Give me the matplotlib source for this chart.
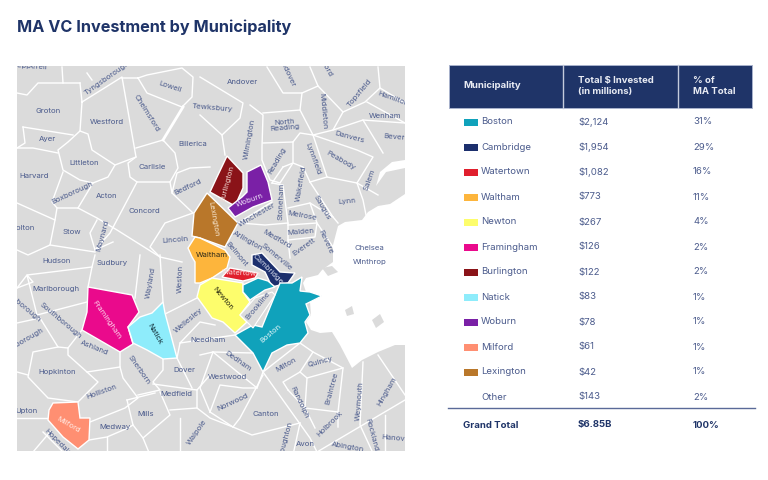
import matplotlib
matplotlib.use('Agg')
import matplotlib.pyplot as plt
from matplotlib.patches import Polygon, Rectangle

# --- CONFIGURATION ---
OUTPUT_FIGURE = 'out.png'
plt.rcParams['font.family'] = ['Inter', 'DejaVu Sans']

NAVY = '#1f3468'
TEXT_BLUE = '#4b5b8c'
LAND = '#dbdbdb'

# --- TABLE DATA ---
municipalities = ['Boston', 'Cambridge', 'Watertown', 'Waltham', 'Newton', 'Framingham',
                  'Burlington', 'Natick', 'Woburn', 'Milford', 'Lexington', 'Other']
invested = ['$2,124', '$1,954', '$1,082', '$773', '$267', '$126',
            '$122', '$83', '$78', '$61', '$42', '$143']
percent = ['31%', '29%', '16%', '11%', '4%', '2%', '2%', '1%', '1%', '1%', '1%', '2%']
colors = ['#10a2bb', '#1c2f6d', '#e01f2d', '#fdb53c', '#fdfd6c', '#ea0a8c',
          '#8a1318', '#8eecfb', '#7a20a6', '#ff8f72', '#b9772a', None]

highlighted = {
    'Burlington': [(227, 156), (243, 173), (243, 188), (235, 206), (210, 192), (217, 177)],
    'Woburn': [(261, 165), (268, 182), (272, 200), (253, 207), (235, 217), (228, 208),
               (242, 197), (247, 192), (247, 172)],
    'Lexington': [(207, 193), (238, 223), (225, 247), (200, 238), (192, 236), (194, 213)],
    'Waltham': [(188, 248), (195, 237), (200, 238), (225, 250), (230, 257), (227, 268),
                (212, 278), (200, 283), (195, 283), (195, 262), (192, 257)],
    'Watertown': [(222, 277), (230, 268), (258, 273), (255, 278), (243, 281)],
    'Cambridge': [(252, 255), (262, 253), (280, 272), (295, 273), (288, 283), (272, 287),
                  (265, 272), (252, 265)],
    'Newton': [(197, 297), (200, 285), (212, 278), (243, 283), (243, 292), (250, 302),
               (240, 315), (247, 322), (235, 333), (223, 322), (212, 318), (205, 308)],
    'Boston': [(302, 277), (300, 291), (310, 292), (322, 296), (314, 300), (306, 304), (310, 315),
               (305, 322), (308, 333), (300, 343), (287, 345), (272, 353), (263, 372), (253, 353),
               (235, 335), (253, 325), (262, 327), (275, 295), (280, 283), (292, 283)],
    'Allston': [(243, 285), (258, 278), (268, 281), (275, 287), (265, 290), (250, 300), (243, 292)],
    'Framingham': [(88, 287), (132, 295), (139, 312), (128, 327), (133, 344), (120, 352),
                   (82, 330), (87, 312)],
    'Natick': [(163, 302), (165, 313), (177, 358), (163, 359), (147, 350), (133, 343),
               (128, 327), (140, 317), (152, 313)],
    'Milford': [(53, 403), (78, 402), (80, 418), (90, 418), (89, 440), (78, 449), (63, 437),
                (48, 420), (49, 410)],
}
brookline = [(272, 292), (275, 295), (253, 328), (240, 315), (255, 298)]
sea = [(405, 194), (390, 204), (378, 206), (368, 212), (362, 220), (345, 222), (338, 226),
       (333, 245), (333, 262), (322, 270), (318, 275), (306, 278), (303, 283), (306, 292),
       (322, 296), (310, 302), (311, 315), (306, 322), (311, 330), (320, 333), (332, 332),
       (340, 345), (352, 368), (362, 360), (378, 352), (395, 345), (405, 345)]
bay = [(405, 160), (392, 162), (380, 172), (376, 186), (386, 172), (405, 168)]
islands = [[(322, 268), (332, 266), (338, 272), (328, 276)],
           [(345, 310), (352, 306), (354, 314), (347, 316)],
           [(372, 320), (380, 314), (384, 322), (376, 328)]]

borders = [
    [(80, 83), (82, 102), (122, 77), (136, 157), (115, 165), (92, 150), (88, 134), (80, 131), (82, 102)],
    [(80, 131), (68, 142), (58, 150), (63, 170), (80, 180), (93, 183), (108, 177), (115, 165)],
    [(23, 127), (73, 135)],
    [(17, 148), (33, 148), (58, 153)],
    [(17, 93), (27, 95), (38, 83), (63, 83), (80, 83)],
    [(62, 67), (63, 83)],
    [(23, 127), (25, 143), (17, 148)],
    [(87, 73), (92, 80)],
    [(122, 78), (138, 78), (147, 93), (182, 107), (192, 97), (193, 77), (182, 68), (147, 75), (138, 78)],
    [(136, 148), (163, 140), (175, 153), (178, 168), (170, 182), (137, 182), (130, 177), (128, 163), (136, 157)],
    [(137, 182), (110, 233), (95, 250)],
    [(97, 220), (90, 233), (95, 250), (113, 242)],
    [(63, 172), (52, 202), (57, 208), (78, 208), (93, 183)],
    [(17, 203), (55, 220), (57, 208)],
    [(78, 208), (97, 218), (117, 230), (160, 257), (182, 262)],
    [(55, 220), (50, 245), (28, 255), (17, 250)],
    [(50, 245), (95, 252)],
    [(170, 182), (172, 193), (177, 173), (190, 168), (210, 167)],
    [(172, 193), (193, 213)],
    [(193, 213), (165, 223), (150, 247), (160, 257)],
    [(200, 77), (243, 103), (240, 118), (222, 135), (225, 155)],
    [(200, 115), (222, 135)],
    [(250, 105), (263, 115), (262, 147), (262, 160), (270, 180), (280, 183), (293, 163), (293, 142)],
    [(267, 67), (283, 93), (302, 93), (318, 86), (310, 67)],
    [(263, 113), (300, 110), (313, 135), (300, 133), (293, 142), (263, 143)],
    [(302, 93), (300, 110)],
    [(318, 86), (343, 112), (365, 102), (380, 88), (378, 67)],
    [(313, 135), (333, 130), (343, 112)],
    [(333, 130), (363, 120), (377, 143), (383, 153)],
    [(367, 102), (405, 123)],
    [(380, 88), (405, 103)],
    [(363, 120), (405, 123)],
    [(313, 135), (357, 150), (373, 157), (357, 183)],
    [(313, 135), (327, 177), (357, 183), (378, 195)],
    [(357, 183), (363, 200), (366, 215)],
    [(310, 182), (327, 177)],
    [(310, 182), (333, 217), (338, 223)],
    [(283, 167), (293, 163), (303, 167), (310, 182)],
    [(283, 167), (272, 183)],
    [(238, 223), (272, 202)],
    [(272, 183), (283, 185), (288, 223)],
    [(240, 223), (265, 225), (288, 223), (288, 240), (290, 258)],
    [(288, 208), (310, 203), (317, 223), (288, 225)],
    [(288, 240), (315, 237), (317, 223), (333, 247)],
    [(310, 203), (333, 217)],
    [(17, 288), (33, 282), (27, 275), (92, 267)],
    [(88, 287), (92, 267), (95, 255)],
    [(17, 288), (27, 275), (37, 315), (87, 302)],
    [(17, 323), (40, 318), (58, 347), (68, 348), (82, 330)],
    [(68, 348), (68, 355), (87, 372), (120, 367), (120, 352)],
    [(58, 347), (33, 352), (28, 377), (48, 398), (78, 402), (98, 382), (87, 372)],
    [(17, 372), (28, 375)],
    [(90, 422), (125, 408), (138, 398), (123, 378), (120, 367)],
    [(138, 395), (160, 390), (153, 382), (163, 370), (163, 359)],
    [(153, 384), (197, 390), (210, 375)],
    [(177, 358), (192, 388)],
    [(127, 400), (155, 393)],
    [(127, 400), (133, 425), (143, 438), (170, 415), (160, 392)],
    [(170, 410), (197, 408), (197, 390)],
    [(89, 440), (107, 437), (128, 428), (133, 425)],
    [(107, 437), (107, 455)],
    [(143, 438), (150, 455)],
    [(180, 418), (180, 455)],
    [(197, 408), (210, 418), (233, 427)],
    [(17, 418), (48, 418)],
    [(33, 452), (50, 432)],
    [(43, 432), (63, 452)],
    [(140, 255), (135, 298)],
    [(160, 255), (163, 302)],
    [(165, 314), (197, 298)],
    [(177, 358), (180, 343), (235, 335)],
    [(180, 343), (200, 322), (215, 325)],
    [(200, 355), (213, 352), (253, 353)],
    [(213, 352), (200, 388), (210, 412)],
    [(213, 352), (257, 388), (263, 372)],
    [(210, 412), (220, 385), (243, 388), (257, 388)],
    [(210, 412), (233, 427), (240, 418), (263, 375)],
    [(263, 372), (310, 438), (317, 452)],
    [(233, 427), (252, 435), (300, 423)],
    [(300, 423), (293, 455)],
    [(263, 372), (300, 343), (313, 352), (300, 372), (283, 382), (288, 390)],
    [(313, 352), (343, 368), (307, 378), (300, 372)],
    [(307, 378), (305, 408), (338, 412), (338, 427)],
    [(288, 390), (305, 408)],
    [(305, 408), (315, 428)],
    [(343, 368), (338, 412)],
    [(363, 362), (360, 425), (372, 451)],
    [(317, 452), (405, 400)],
    [(385, 415), (385, 451)],
    [(378, 355), (405, 395)],
]

# --- MAP LABELS: name, x, y, angle ---
town_labels = [
    ('Pepperell', 30, 66, -4), ('Tyngsborough', 107, 78, 35), ('Lowell', 170, 87, -18),
    ('Chelmsford', 147, 113, -58), ('Tewksbury', 212, 108, -5), ('Andover', 242, 82, 0),
    ('Andover', 287, 72, -65), ('Boxford', 323, 64, -60), ('Middleton', 323, 111, -85),
    ('Topsfield', 359, 93, 50), ('Hamilton', 393, 99, -20), ('Wenham', 385, 116, 0),
    ('Beverly', 397, 137, -5), ('Danvers', 350, 137, -15), ('Peabody', 341, 160, -30),
    ('Lynnfield', 313, 159, -70), ('North\nReading', 285, 125, 5), ('Wilmington', 249, 139, 80),
    ('Reading', 277, 161, 60), ('Salem', 369, 180, 70), ('Lynn', 347, 201, 5),
    ('Saugus', 322, 207, -60), ('Wakefield', 301, 184, 80), ('Stoneham', 281, 201, 88),
    ('Melrose', 302, 216, -10), ('Malden', 301, 232, 5), ('Winchester', 257, 215, 30),
    ('Medford', 277, 239, -30), ('Everett', 304, 247, 35), ('Revere', 326, 242, -65),
    ('Arlington', 248, 241, -30), ('Belmont', 237, 254, -50), ('Chelsea', 369, 248, 0),
    ('Winthrop', 370, 262, 0), ('Somerville', 277, 257, -40),
    ('Hopkinton', 57, 372, 0), ('Holliston', 102, 392, 20), ('Ashland', 94, 348, -22),
    ('Sherborn', 139, 370, -55), ('Dover', 184, 370, 0), ('Medfield', 176, 394, 0),
    ('Mills', 146, 414, 0), ('Medway', 115, 427, 0), ('Upton', 27, 411, 0),
    ('Hopedale', 58, 442, -45), ('Walpole', 197, 432, 55), ('Needham', 208, 340, 0),
    ('Wellesley', 188, 320, 40), ('Weston', 180, 279, 88), ('Wayland', 151, 283, 80),
    ('Sudbury', 112, 263, 0), ('Hudson', 57, 261, 0), ('Marlborough', 56, 289, 0),
    ('Southborough', 61, 321, -40), ('Northborough', 20, 304, -40), ('Westborough', 22, 342, 30),
    ('Bolton', 23, 228, 0), ('Stow', 72, 232, 0), ('Maynard', 103, 236, 75), ('Acton', 107, 196, 0),
    ('Concord', 144, 211, 0), ('Lincoln', 175, 240, 5), ('Bedford', 188, 187, 25),
    ('Carlisle', 152, 167, 0), ('Billerica', 193, 144, 0), ('Littleton', 84, 163, 0),
    ('Boxborough', 72, 193, 25), ('Harvard', 34, 176, 0), ('Ayer', 47, 139, 0),
    ('Groton', 48, 111, 0), ('Westford', 107, 122, 0), ('Dedham', 238, 361, -35),
    ('Westwood', 227, 377, 0), ('Norwood', 233, 402, 25), ('Canton', 266, 414, 0),
    ('Milton', 286, 365, 30), ('Quincy', 320, 362, 15), ('Randolph', 299, 402, -65),
    ('Braintree', 332, 388, 75), ('Holbrook', 330, 424, 45), ('Weymouth', 360, 401, 85),
    ('Hingham', 387, 391, 60), ('Rockland', 372, 435, -75), ('Hanover', 397, 438, -5),
    ('Avon', 305, 444, 0), ('Abington', 348, 447, -10), ('Stoughton', 286, 440, 75),
    ('Brookline', 258, 306, 50),
]
highlight_labels = [
    ('Burlington', 227, 183, 75, '#eed6d0'), ('Woburn', 250, 200, 20, '#eee0f6'),
    ('Lexington', 213, 219, -80, '#f6e6d0'), ('Waltham', 212, 255, 0, '#2c2818'),
    ('Watertown', 242, 273, -3, '#fbd8da'), ('Cambridge', 268, 269, -45, '#d8deee'),
    ('Newton', 223, 298, -50, '#262610'), ('Boston', 271, 333, 40, '#e0f5f8'),
    ('Framingham', 107, 320, -55, '#fcd6ea'), ('Natick', 155, 334, -60, '#0c2630'),
    ('Milford', 68, 425, -30, '#ffece6'),
]

# --- PLOTTING ---
fig = plt.figure(figsize=(7.68, 4.8), dpi=100)
ax = fig.add_axes([0, 0, 1, 1])
ax.set_xlim(0, 768)
ax.set_ylim(480, 0)
ax.axis('off')

ax.text(17, 27, 'MA VC Investment by Municipality', fontsize=11.7, fontweight='bold',
        color=NAVY, va='center')

# Map: land, borders, water, then the coloured towns on top
map_frame = Rectangle((17, 66), 388, 385, facecolor=LAND, edgecolor='none', zorder=1)
ax.add_patch(map_frame)
for line in borders:
    xs, ys = zip(*line)
    ln, = ax.plot(xs, ys, color='white', linewidth=1.0, solid_joinstyle='round', zorder=2)
    ln.set_clip_path(map_frame)
thick = [(183, 107), (163, 140)]
ax.plot(*zip(*thick), color='white', linewidth=2.0, zorder=2)

for shape in [sea, bay]:
    ax.add_patch(Polygon(shape, closed=True, facecolor='white', edgecolor='none', zorder=3))
for shape in islands:
    ax.add_patch(Polygon(shape, closed=True, facecolor=LAND, edgecolor='none', zorder=3))

color_of = dict(zip(municipalities, colors))
for name, outline in highlighted.items():
    fill = color_of['Boston'] if name == 'Allston' else color_of[name]
    ax.add_patch(Polygon(outline, closed=True, facecolor=fill, edgecolor='white',
                         linewidth=1.0, zorder=4))
ax.add_patch(Polygon(brookline, closed=True, facecolor=LAND, edgecolor='white',
                     linewidth=0.8, zorder=5))

# Labels run off the map frame in the source, so clip them to it
for name, x, y, angle in town_labels:
    t = ax.text(x, y, name, fontsize=5.6, color=TEXT_BLUE, rotation=angle, ha='center',
                va='center', rotation_mode='anchor', linespacing=1.0, zorder=6)
    t.set_clip_on(True)
    t.set_clip_path(map_frame)
for name, x, y, angle, col in highlight_labels:
    ax.text(x, y, name, fontsize=5.5, color=col, rotation=angle, ha='center', va='center',
            rotation_mode='anchor', zorder=6)

# Table header
ax.add_patch(Rectangle((449, 65), 303, 43, facecolor=NAVY, edgecolor='#a8b2cc', linewidth=0.7))
for x in [563, 678]:
    ax.plot([x, x], [65, 108], color='#c4cbdc', linewidth=1.0)
ax.text(463, 86, 'Municipality', fontsize=6.9, fontweight='bold', color='#e8ebf3', va='center')
ax.text(578, 86, 'Total $ Invested\n(in millions)', fontsize=6.9, fontweight='bold',
        color='#e8ebf3', va='center', linespacing=1.35)
ax.text(693, 86, '% of\nMA Total', fontsize=6.9, fontweight='bold', color='#e8ebf3',
        va='center', linespacing=1.35)

# Table rows
for i, name in enumerate(municipalities):
    y = 122 + i * 25
    if colors[i] is not None:
        ax.add_patch(Rectangle((463.5, y - 3.5), 14, 7, facecolor=colors[i], edgecolor='none'))
    ax.text(481, y, name, fontsize=6.9, color=TEXT_BLUE, va='center')
    ax.text(578, y, invested[i], fontsize=6.9, color=TEXT_BLUE, va='center')
    ax.text(693, y, percent[i], fontsize=6.9, color=TEXT_BLUE, va='center')

ax.plot([448, 755], [408, 408], color='#5a6a98', linewidth=1.0)
ax.text(463, 425, 'Grand Total', fontsize=6.9, fontweight='bold', color=NAVY, va='center')
ax.text(578, 425, '$6.85B', fontsize=6.9, fontweight='bold', color=NAVY, va='center')
ax.text(693, 425, '100%', fontsize=6.9, fontweight='bold', color=NAVY, va='center')

plt.savefig(OUTPUT_FIGURE, dpi=100)
